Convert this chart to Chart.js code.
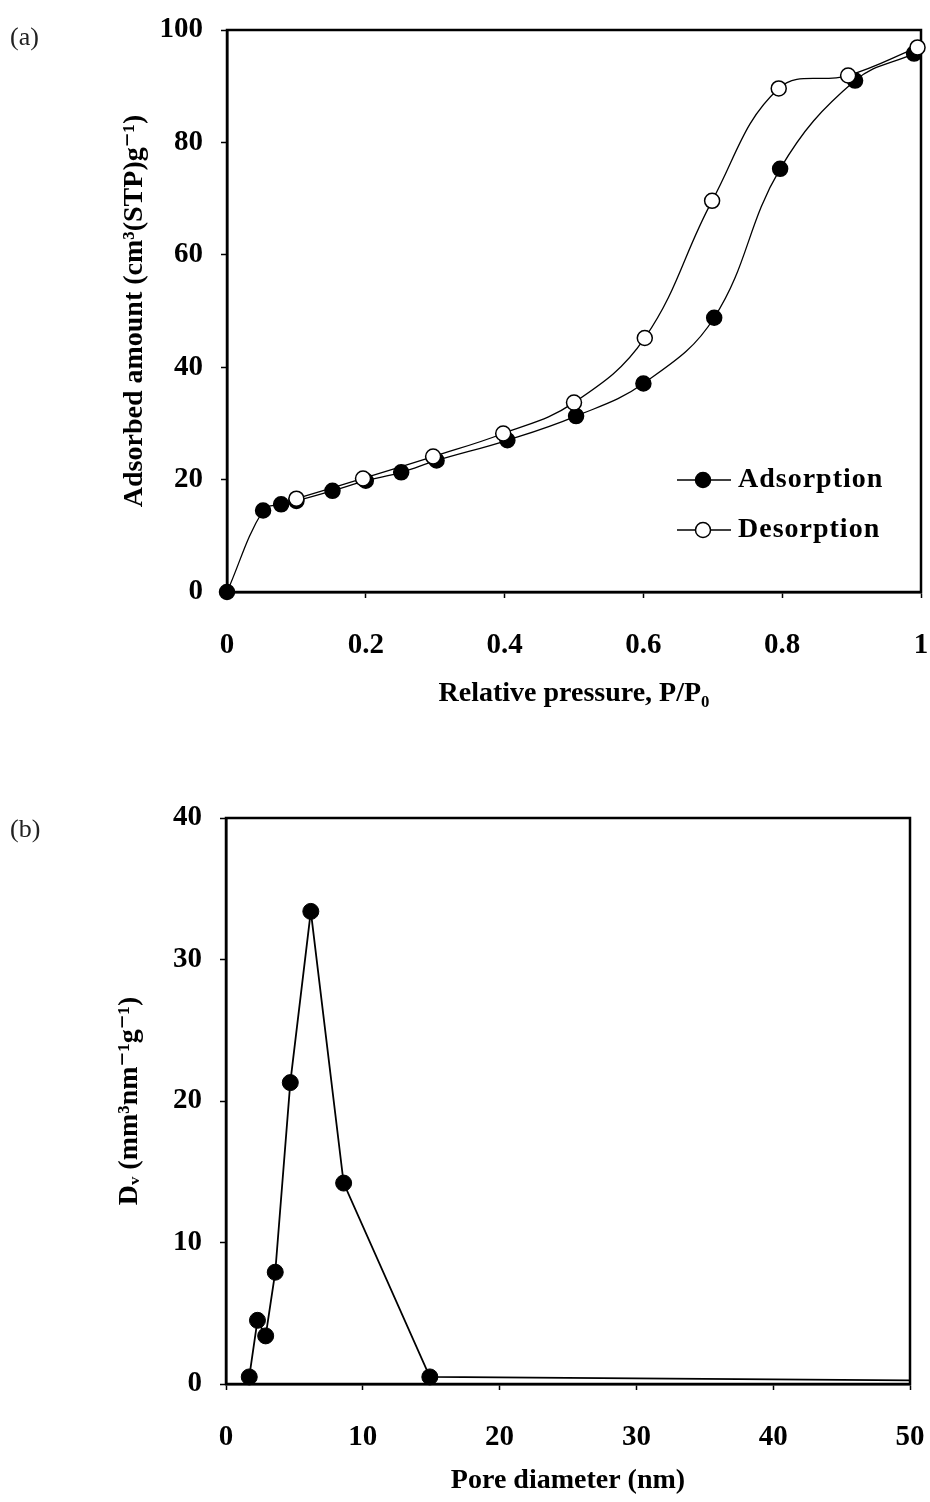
<!DOCTYPE html>
<html>
<head>
<meta charset="utf-8">
<script src="https://cdn.jsdelivr.net/npm/chart.js@4.4.0/dist/chart.umd.min.js"></script>
<style>
    body { margin: 0; background: #fff; width: 930px; height: 1502px; position: relative; overflow: hidden; }
    .panel { position: absolute; left: 0; width: 930px; }
    .panel canvas { display: block; }
    .tag { position: absolute; left: 10px; font-family: "Liberation Serif", "Times New Roman", serif; font-size: 26px; color: #222; }
</style>
</head>
<body>
<div class="panel" style="top:0;height:740px"><canvas id="isotherm" width="930" height="740"></canvas></div>
<div class="panel" style="top:780px;height:722px"><canvas id="poreDist" width="930" height="722"></canvas></div>
<div class="tag" style="top:22px">(a)</div>
<div class="tag" style="top:814px">(b)</div>

<script>
// ===== Data =====
const adsPressure = [0, 0.052, 0.078, 0.1, 0.152, 0.2, 0.251, 0.302, 0.404, 0.503, 0.6, 0.702, 0.797, 0.905, 0.99];
const adsAmount   = [0, 14.5, 15.6, 16.2, 18.0, 19.8, 21.3, 23.4, 27.0, 31.3, 37.1, 48.8, 75.3, 91.0, 95.8];
const desPressure = [0.1, 0.196, 0.297, 0.398, 0.5, 0.602, 0.699, 0.795, 0.895, 0.995];
const desAmount   = [16.6, 20.2, 24.1, 28.2, 33.7, 45.2, 69.6, 89.6, 91.9, 96.9];

const poreDiameter = [1.7, 2.3, 2.9, 3.6, 4.7, 6.2, 8.6, 14.9, 50];
const poreVolume   = [0.5, 4.5, 3.4, 7.9, 21.3, 33.4, 14.2, 0.5, 0.25];

// ===== Shared styling =====
const SERIF = '"Liberation Serif", "Times New Roman", "DejaVu Serif", serif';
const tickFont = { family: SERIF, size: 29, weight: 'bold' };
const titleFont = { family: SERIF, size: 28, weight: 'bold' };

const toPoints = (xs, ys) => xs.map((x, i) => ({ x: x, y: ys[i] }));

function makeAxis(min, max, step, title, titlePad, tickPad) {
    return {
        type: 'linear',
        min: min,
        max: max,
        ticks: {
            stepSize: step, font: tickFont, color: '#000', padding: tickPad, maxRotation: 0,
            callback: v => String(Math.round(v * 10) / 10)
        },
        grid: { drawOnChartArea: false, tickLength: 6, tickColor: '#000', tickWidth: 1.5 },
        border: { color: '#000', width: 2.5 },
        title: { display: true, text: title, font: titleFont, color: '#000', padding: titlePad }
    };
}

// fixed box sizes so the plot area lands where the original has it
function fixX(height) {
    return s => { s.height = height; s.paddingLeft = 0; s.paddingRight = 0; };
}
function fixY(width) {
    return s => { s.width = width; s.paddingTop = 0; s.paddingBottom = 0; };
}

// box around the whole plot area
const framePlugin = {
    id: 'frame',
    beforeDatasetsDraw(chart) {
        const { ctx, chartArea: a } = chart;
        ctx.save();
        ctx.strokeStyle = '#000';
        ctx.lineWidth = 2.5;
        ctx.strokeRect(a.left, a.top, a.right - a.left, a.bottom - a.top);
        ctx.restore();
    }
};

// legend drawn inside the plot, lower right
const insetLegend = {
    id: 'insetLegend',
    afterDraw(chart) {
        const ctx = chart.ctx;
        const a = chart.chartArea;
        const x0 = a.right - 244;
        const rowsY = [a.bottom - 112, a.bottom - 62];
        ctx.save();
        ['Adsorption', 'Desorption'].forEach((name, i) => {
            const ds = chart.data.datasets.find(d => d.label === name);
            const y = rowsY[i];
            ctx.strokeStyle = '#000';
            ctx.lineWidth = 1.5;
            ctx.beginPath();
            ctx.moveTo(x0, y);
            ctx.lineTo(x0 + 54, y);
            ctx.stroke();
            ctx.beginPath();
            ctx.arc(x0 + 26, y, 7.5, 0, Math.PI * 2);
            ctx.fillStyle = ds.pointBackgroundColor;
            ctx.fill();
            ctx.stroke();
            ctx.fillStyle = '#000';
            ctx.font = 'bold 28px ' + SERIF;
            ctx.textBaseline = 'middle';
            ctx.textAlign = 'left';
            if ('letterSpacing' in ctx) ctx.letterSpacing = '1px';
            ctx.fillText(name, x0 + 61, y);
        });
        ctx.restore();
    }
};

// ===== (a) Adsorption / desorption isotherm =====
const isoX = makeAxis(0, 1, 0.2, 'Relative pressure, P/P\u2080', { top: 0, bottom: 29 }, 30);
isoX.afterFit = fixX(148);
const isoY = makeAxis(0, 100, 20, 'Adsorbed amount (cm\u00B3(STP)g\u207B\u00B9)', { top: 118, bottom: 0 }, 18);
isoY.afterFit = fixY(227);

new Chart(document.getElementById('isotherm'), {
    type: 'scatter',
    data: {
        datasets: [
            {
                label: 'Adsorption',
                data: toPoints(adsPressure, adsAmount),
                showLine: true,
                tension: 0.4,
                borderColor: '#000',
                borderWidth: 1.3,
                pointRadius: 7.5,
                pointBorderWidth: 1.5,
                pointBorderColor: '#000',
                pointBackgroundColor: '#000',
                clip: false,
                order: 2
            },
            {
                label: 'Desorption',
                data: toPoints(desPressure, desAmount),
                showLine: true,
                tension: 0.4,
                borderColor: '#000',
                borderWidth: 1.3,
                pointRadius: 7.5,
                pointBorderWidth: 1.5,
                pointBorderColor: '#000',
                pointBackgroundColor: '#fff',
                clip: false,
                order: 1
            }
        ]
    },
    options: {
        responsive: false,
        animation: false,
        layout: { padding: { top: 30, right: 7, bottom: 0, left: 0 } },
        scales: { x: isoX, y: isoY },
        plugins: { legend: { display: false }, tooltip: { enabled: false } }
    },
    plugins: [framePlugin, insetLegend]
});

// ===== (b) Pore size distribution =====
const poreX = makeAxis(0, 50, 10, 'Pore diameter (nm)', { top: 0, bottom: 4 }, 30);
poreX.afterFit = fixX(118);
const poreY = makeAxis(0, 40, 10, 'D\u1D65 (mm\u00B3nm\u207B\u00B9g\u207B\u00B9)', { top: 113, bottom: 0 }, 18);
poreY.afterFit = fixY(226);

new Chart(document.getElementById('poreDist'), {
    type: 'scatter',
    data: {
        datasets: [{
            label: 'Dv',
            data: toPoints(poreDiameter, poreVolume),
            showLine: true,
            tension: 0,
            borderColor: '#000',
            borderWidth: 1.8,
            pointRadius: poreVolume.map((v, i) => i === poreVolume.length - 1 ? 0 : 8),
            pointBorderWidth: 1,
            pointBorderColor: '#000',
            pointBackgroundColor: '#000',
            clip: false
        }]
    },
    options: {
        responsive: false,
        animation: false,
        layout: { padding: { top: 38, right: 20, bottom: 0, left: 0 } },
        scales: { x: poreX, y: poreY },
        plugins: { legend: { display: false }, tooltip: { enabled: false } }
    },
    plugins: [framePlugin]
});
</script>
</body>
</html>
